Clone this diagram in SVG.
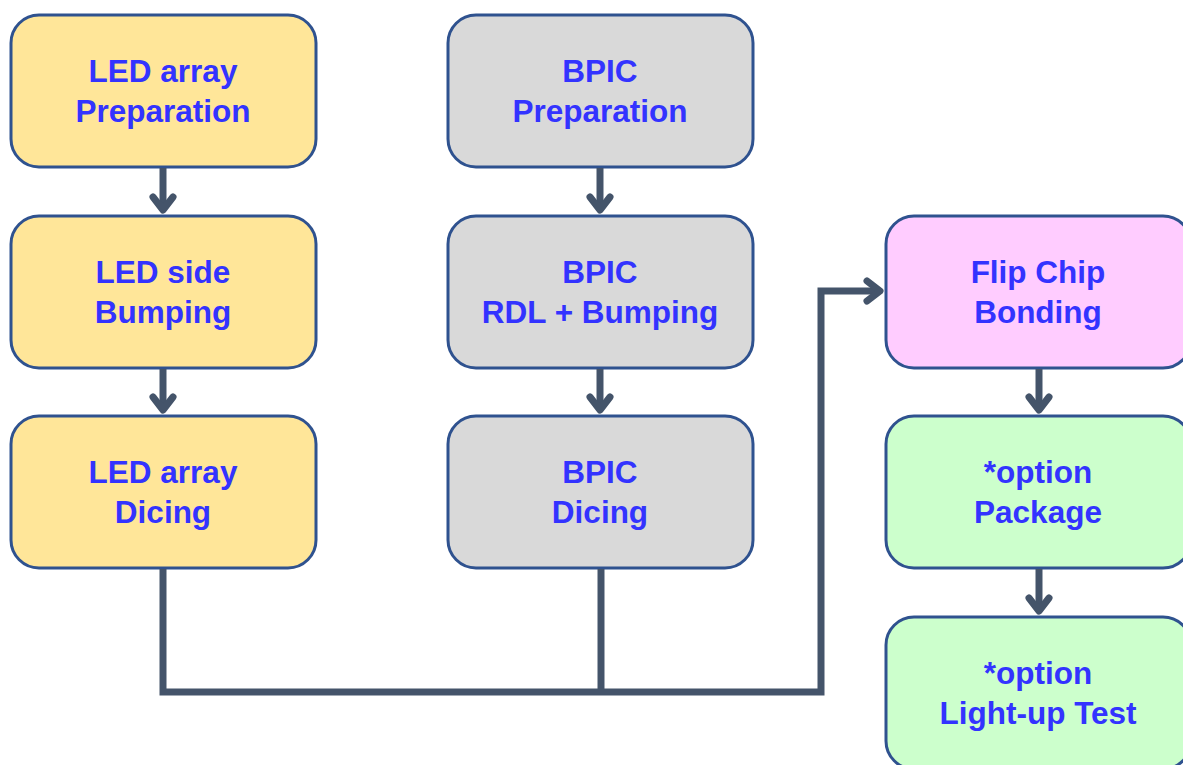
<svg xmlns="http://www.w3.org/2000/svg" width="1183" height="765" viewBox="0 0 1183 765">
<defs>
<style>
.box{stroke:#2F528F;stroke-width:3}
.y{fill:#FFE699}.g{fill:#D9D9D9}.p{fill:#FFCCFF}.gr{fill:#CCFFCC}
.t{font-family:"Liberation Sans",Arial,sans-serif;font-weight:bold;font-size:31.5px;fill:#3333FF;text-anchor:middle}
.c{fill:none;stroke:#44546A;stroke-width:7}
.h{fill:none;stroke:#44546A;stroke-width:7;stroke-linecap:round;stroke-linejoin:round}
</style>
</defs>
<rect width="1183" height="765" fill="#FFFFFF"/>
<g id="n1"><rect class="box y" x="11" y="15" width="305" height="152" rx="28"/><text class="t" x="163" y="82">LED array</text><text class="t" x="163" y="122">Preparation</text></g>
<g id="n2"><rect class="box y" x="11" y="216" width="305" height="152" rx="28"/><text class="t" x="163" y="283">LED side</text><text class="t" x="163" y="323">Bumping</text></g>
<g id="n3"><rect class="box y" x="11" y="416" width="305" height="152" rx="28"/><text class="t" x="163" y="483">LED array</text><text class="t" x="163" y="523">Dicing</text></g>
<g id="n4"><rect class="box g" x="448" y="15" width="305" height="152" rx="28"/><text class="t" x="600" y="82">BPIC</text><text class="t" x="600" y="122">Preparation</text></g>
<g id="n5"><rect class="box g" x="448" y="216" width="305" height="152" rx="28"/><text class="t" x="600" y="283">BPIC</text><text class="t" x="600" y="323">RDL + Bumping</text></g>
<g id="n6"><rect class="box g" x="448" y="416" width="305" height="152" rx="28"/><text class="t" x="600" y="483">BPIC</text><text class="t" x="600" y="523">Dicing</text></g>
<g id="n7"><rect class="box p" x="886" y="216" width="305" height="152" rx="28"/><text class="t" x="1038" y="283">Flip Chip</text><text class="t" x="1038" y="323">Bonding</text></g>
<g id="n8"><rect class="box gr" x="886" y="416" width="305" height="152" rx="28"/><text class="t" x="1038" y="483">*option</text><text class="t" x="1038" y="523">Package</text></g>
<g id="n9"><rect class="box gr" x="886" y="617" width="305" height="152" rx="28"/><text class="t" x="1038" y="684">*option</text><text class="t" x="1038" y="724">Light-up Test</text></g>
<g id="connectors">
<line class="c" x1="163" y1="168" x2="163" y2="210"/><polyline class="h" points="153,197 163,210 173,197"/>
<line class="c" x1="163" y1="369" x2="163" y2="410"/><polyline class="h" points="153,397 163,410 173,397"/>
<line class="c" x1="600" y1="168" x2="600" y2="210"/><polyline class="h" points="590,197 600,210 610,197"/>
<line class="c" x1="600" y1="369" x2="600" y2="410"/><polyline class="h" points="590,397 600,410 610,397"/>
<line class="c" x1="1039" y1="369" x2="1039" y2="410"/><polyline class="h" points="1029,397 1039,410 1049,397"/>
<line class="c" x1="1039" y1="569" x2="1039" y2="611"/><polyline class="h" points="1029,598 1039,611 1049,598"/>
<polyline class="c" points="163,569 163,692 821,692 821,291 880,291"/>
<line class="c" x1="601" y1="569" x2="601" y2="692"/>
<polyline class="h" points="867,281 880,291 867,301"/>
</g>
</svg>
